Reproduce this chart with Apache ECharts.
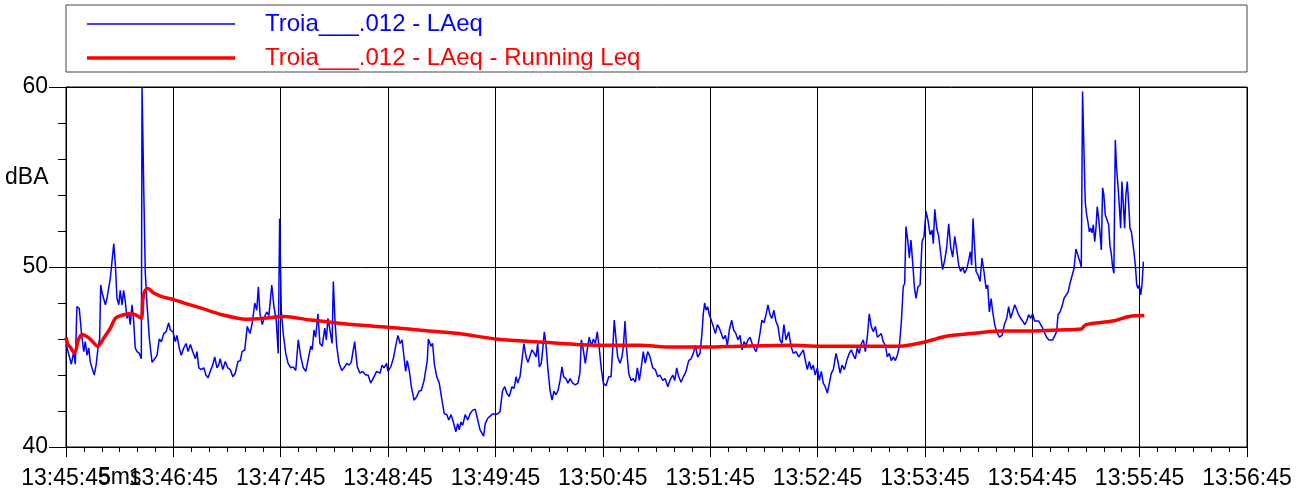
<!DOCTYPE html>
<html>
<head>
<meta charset="utf-8">
<title>Troia LAeq</title>
<script src="https://cdn.jsdelivr.net/npm/echarts@6/dist/echarts.min.js"></script>
<style>
  html, body { margin: 0; padding: 0; background: #fff; }
  #chart { width: 1307px; height: 491px; }
</style>
</head>
<body>
<div id="chart"></div>
<script>
// seconds after 13:45:45, dBA
const laeq = [
  [0,45.7],[0.6,45.5],[3.0,44.6],[4.3,45.3],[5.2,44.6],[6.1,47.8],[7.4,47.7],[8.6,46.4],[9.9,45.3],[10.8,45.85],
  [11.7,45.1],[12.7,45.5],[13.6,44.7],[14.5,44.6],[15.8,44.0],[16.9,44.6],[17.9,45.5],[18.8,46.0],[19.4,49.0],[20.1,48.6],
  [21.1,48.7],[22.0,47.9],[22.9,48.25],[23.9,48.2],[24.8,49.4],[25.7,49.5],[26.7,51.3],[27.6,50.1],[28.5,48.25],[29.5,47.9],
  [30.3,48.7],[31.3,47.9],[32.2,48.7],[33.1,48.1],[34.1,47.15],[35.0,47.5],[35.9,46.8],[36.9,47.9],[37.8,47.0],[38.7,45.5],
  [39.7,45.3],[41.0,45.2],[42.1,44.9],[42.5,60.0],[43.4,54.6],[44.3,49.7],[45.3,47.9],[46.6,46.0],[48.1,44.7],[49.6,44.9],
  [50.9,45.1],[52.1,46.0],[53.3,45.85],[54.6,46.3],[55.9,46.4],[57.4,46.9],[58.3,46.5],[59.8,46.4],[61.1,45.85],[62.0,46.2],
  [63.3,45.5],[64.4,45.1],[65.8,45.5],[67.1,45.75],[68.2,45.3],[69.5,45.7],[70.8,45.3],[72.3,44.9],[73.2,45.3],[74.2,44.4],
  [75.6,44.3],[77.0,44.4],[78.2,44.0],[79.4,43.85],[80.6,44.2],[82.0,44.55],[83.1,45.0],[84.4,44.4],[85.3,44.55],[86.2,44.9],
  [87.6,44.3],[89.0,44.75],[90.4,44.4],[91.8,44.3],[93.2,43.9],[94.6,44.1],[96.1,44.75],[97.4,44.8],[98.4,45.3],[99.9,45.4],
  [101.3,46.7],[102.8,46.3],[104.1,46.9],[105.5,48.0],[106.6,47.6],[107.5,48.9],[108.4,47.4],[109.7,46.8],[111.0,47.25],[112.2,47.5],
  [113.4,47.3],[115.0,49.0],[116.2,47.8],[117.5,47.05],[118.6,45.2],[119.4,52.7],[120.3,47.6],[121.4,46.3],[122.8,45.2],[124.1,44.65],
  [125.6,44.4],[127.0,44.45],[128.4,44.25],[129.8,45.95],[131.2,45.0],[132.6,44.4],[134.0,44.2],[135.2,44.8],[136.8,45.6],[137.6,45.4],
  [138.6,46.5],[139.5,46.1],[140.8,47.4],[141.9,45.75],[143.2,45.6],[144.6,46.6],[145.5,45.95],[146.4,47.15],[147.5,46.5],[148.7,45.75],
  [149.4,49.2],[150.3,47.05],[151.3,45.6],[152.6,44.65],[154.1,44.25],[155.4,44.4],[156.9,44.65],[158.2,44.55],[159.4,44.7],[161.3,45.85],
  [162.8,44.45],[164.3,44.1],[165.8,44.2],[167.5,44.0],[168.8,44.0],[170.3,43.55],[172.1,43.9],[173.6,44.2],[175.5,44.1],[176.6,44.55],
  [177.7,44.4],[179.2,44.65],[179.9,44.2],[181.5,44.45],[182.9,44.9],[184.3,45.65],[185.5,46.2],[186.7,45.75],[187.8,45.95],[188.9,45.0],
  [189.8,44.2],[190.7,44.8],[191.9,44.2],[193.0,43.35],[194.5,42.6],[196.0,42.8],[197.3,43.1],[198.6,43.15],[200.1,43.7],[201.2,43.8],
  [201.9,44.8],[202.5,46.0],[203.0,46.1],[204.0,45.6],[204.9,45.75],[205.8,44.65],[207.2,43.9],[208.6,43.55],[210.1,42.6],[211.4,41.85],
  [212.8,41.8],[213.9,41.5],[215.2,41.8],[216.4,41.4],[217.9,40.85],[218.9,41.3],[219.8,40.95],[220.7,41.4],[221.7,41.2],[223.1,41.8],
  [224.5,41.5],[225.8,41.85],[227.3,42.05],[228.7,42.1],[230.1,41.5],[231.4,40.95],[232.5,41.05],[233.4,40.6],[234.3,41.3],[235.7,41.6],
  [236.9,41.7],[238.5,41.85],[239.9,41.8],[241.3,41.85],[242.5,41.95],[244.0,43.15],[245.2,43.35],[246.3,43.0],[247.7,42.8],[249.2,43.35],
  [250.4,43.25],[251.5,43.9],[252.4,43.55],[253.7,43.9],[254.8,44.8],[255.9,45.75],[257.1,45.0],[258.2,44.7],[259.3,44.65],[260.4,45.4],
  [261.7,45.2],[262.7,45.0],[263.6,45.75],[264.5,44.45],[265.6,44.65],[266.4,45.4],[267.3,46.4],[268.2,45.75],[269.2,44.45],[270.5,43.15],
  [271.6,42.6],[272.7,43.1],[273.8,42.9],[275.0,43.15],[276.1,43.7],[277.2,44.45],[278.1,43.9],[279.4,43.8],[280.5,43.55],[281.7,43.8],
  [283.2,43.55],[284.6,43.45],[286.1,43.55],[287.2,44.1],[288.0,45.95],[289.1,45.4],[290.2,44.65],[291.3,45.4],[292.4,46.1],[293.6,45.6],
  [294.7,46.0],[295.8,45.75],[296.9,46.4],[298.0,45.5],[299.2,44.3],[300.3,43.55],[301.8,43.4],[303.3,43.9],[304.6,43.9],[305.5,45.4],
  [306.4,47.05],[307.4,45.95],[308.3,45.0],[309.6,44.65],[310.7,45.0],[311.5,45.6],[312.4,47.0],[313.3,45.4],[314.5,44.1],[315.7,43.7],
  [317.0,43.8],[318.2,43.6],[319.3,44.4],[320.4,43.7],[321.5,44.45],[322.6,45.3],[323.7,44.65],[325.1,45.3],[326.4,45.0],[327.9,44.4],
  [329.3,44.3],[330.7,43.9],[331.9,44.0],[333.5,43.7],[334.9,43.8],[336.3,43.35],[337.5,43.7],[339.1,44.0],[340.2,43.7],[341.3,44.4],
  [342.4,43.9],[343.7,43.6],[345.0,43.9],[346.5,44.2],[348.0,44.8],[349.3,44.9],[350.6,45.2],[351.7,45.65],[353.0,45.0],[354.3,45.2],
  [355.4,46.3],[356.1,47.35],[356.9,48.0],[357.7,47.6],[358.6,47.8],[359.5,47.35],[360.6,47.05],[361.7,46.7],[362.9,46.3],[364.0,46.8],
  [365.1,46.6],[366.2,46.3],[367.3,46.0],[368.5,46.2],[369.6,45.65],[370.7,46.5],[372.0,47.05],[373.1,46.5],[374.4,46.3],[375.5,45.95],
  [376.7,46.2],[377.8,45.4],[378.9,45.85],[380.0,45.65],[381.1,45.95],[382.3,46.1],[383.4,45.75],[384.5,45.5],[385.6,45.3],[386.7,45.65],
  [387.8,46.3],[388.9,47.05],[390.1,46.9],[391.2,47.35],[392.3,47.9],[393.4,47.35],[394.5,47.15],[395.6,47.6],[396.7,47.0],[397.9,46.7],
  [399.0,45.95],[400.1,45.75],[401.2,46.8],[402.4,45.95],[403.9,46.4],[405.2,45.6],[406.4,45.2],[408.0,45.3],[409.5,45.0],[410.8,45.2],
  [412.0,45.4],[413.2,44.8],[414.3,44.3],[415.4,44.75],[416.5,44.3],[417.6,44.55],[418.7,44.0],[419.9,44.4],[421.0,43.7],[422.1,44.2],
  [423.2,43.55],[424.3,43.35],[425.5,43.0],[426.6,43.55],[427.7,44.1],[428.8,44.3],[430.3,45.2],[431.4,44.75],[432.6,44.1],[433.7,44.55],
  [435.0,44.3],[436.3,44.8],[437.7,45.2],[438.9,45.4],[440.0,45.1],[441.1,44.9],[442.2,45.5],[443.3,45.2],[444.5,45.75],[445.6,45.95],
  [446.7,45.3],[447.8,46.1],[448.9,47.4],[450.0,46.7],[451.2,46.4],[452.3,46.7],[453.4,46.1],[454.5,46.0],[455.6,46.3],[456.7,45.85],
  [457.9,45.65],[459.0,45.0],[460.1,45.2],[461.2,44.8],[462.3,45.0],[463.5,44.8],[464.6,45.1],[465.7,45.6],[466.8,46.9],[467.9,48.9],
  [468.7,49.1],[469.4,52.25],[470.4,51.5],[471.3,50.5],[472.2,51.5],[473.2,50.2],[474.1,48.9],[475.0,48.25],[476.1,48.9],[477.3,49.0],
  [478.4,51.4],[479.5,51.7],[480.6,53.1],[481.7,52.6],[482.9,51.8],[484.0,52.05],[484.7,51.3],[485.5,53.2],[486.6,52.15],[487.7,51.7],
  [488.8,50.75],[489.9,49.85],[491.1,50.4],[492.2,51.1],[493.3,52.4],[494.4,51.1],[495.5,50.55],[496.7,51.7],[497.8,50.95],[498.9,50.1],
  [500.0,49.75],[501.1,50.0],[502.2,49.65],[503.4,49.9],[504.5,50.4],[505.4,50.85],[506.1,50.1],[506.9,52.7],[507.6,51.4],[508.6,49.75],
  [509.7,49.55],[510.8,49.2],[511.9,50.5],[513.0,49.75],[514.2,48.8],[515.1,49.0],[516.0,47.5],[517.0,48.25],[517.9,47.5],[519.0,46.8],
  [520.1,46.4],[521.6,46.1],[523.1,46.2],[524.4,46.8],[525.7,47.15],[526.8,47.8],[527.9,47.15],[529.0,47.5],[530.2,47.9],[531.3,47.9],
  [532.4,47.35],[533.5,47.15],[534.6,47.0],[535.8,46.8],[536.9,47.0],[538.0,47.35],[539.1,47.15],[540.2,47.4],[541.3,47.0],[542.4,46.9],
  [543.6,47.0],[544.7,46.8],[545.8,46.6],[546.9,46.5],[548.0,46.1],[549.2,45.95],[550.3,45.85],[551.4,45.95],[552.5,46.05],[553.6,46.4],
  [554.4,47.35],[555.5,47.5],[556.6,47.8],[557.7,48.25],[558.8,48.15],[560.0,48.6],[561.1,49.1],[562.2,49.0],[563.3,49.9],[564.4,51.0],
  [565.5,50.95],[566.6,50.3],[567.4,50.0],[568.1,59.75],[568.9,56.4],[569.6,53.6],[570.4,52.9],[571.1,52.5],[571.9,51.95],[572.6,52.15],
  [573.4,51.9],[574.1,52.35],[574.9,51.4],[575.6,52.15],[576.3,53.35],[577.1,52.7],[577.8,51.95],[578.6,50.95],[579.3,54.4],[580.0,54.0],
  [580.8,52.9],[581.6,53.0],[582.7,52.35],[583.4,51.2],[584.2,50.7],[584.9,50.0],[585.6,49.65],[586.4,57.05],[587.1,55.5],[587.9,54.55],
  [588.6,53.45],[589.4,52.15],[590.1,54.75],[590.9,53.45],[591.6,52.15],[592.3,54.0],[593.1,54.75],[593.9,53.45],[594.6,52.15],[595.4,51.95],
  [596.1,51.4],[596.8,50.85],[597.6,50.1],[598.4,49.0],[599.1,48.8],[599.8,49.0],[600.6,48.45],[601.3,49.0],[602.1,50.3]
];

const runningLeq = [
  [0,46.1],[1.1,45.7],[2.8,45.5],[3.9,45.3],[5.0,45.25],[6.7,45.9],[8.9,46.25],[12.9,46.05],[17.9,45.6],[21.1,46.05],
  [24.8,46.6],[27.6,47.15],[32.2,47.35],[36.9,47.4],[39.7,47.3],[42.1,47.15],[43.0,48.25],[44.3,48.7],[45.8,48.8],[49.0,48.55],
  [53.6,48.35],[59.8,48.2],[66.7,47.98],[76.0,47.7],[87.2,47.35],[100.6,47.1],[110.7,47.15],[121.4,47.25],[136.8,47.05],[155.4,46.85],
  [179.9,46.65],[202.9,46.45],[219.8,46.3],[240.3,46.0],[262.7,45.85],[285.0,45.7],[304.6,45.65],[320.2,45.65],[339.1,45.55],[357.7,45.55],
  [376.1,45.6],[405.2,45.65],[421.0,45.6],[439.6,45.6],[465.7,45.6],[480.6,45.85],[491.8,46.15],[505.8,46.3],[521.6,46.45],[540.2,46.45],
  [555.1,46.5],[567.2,46.55],[570.0,46.8],[584.9,47.0],[594.2,47.25],[602.6,47.3]
];

const xTickLabels = ['13:45:45', '13:46:45', '13:47:45', '13:48:45', '13:49:45', '13:50:45',
  '13:51:45', '13:52:45', '13:53:45', '13:54:45', '13:55:45', '13:56:45'];

const laeqName = 'Troia___.012 - LAeq';
const runName = 'Troia___.012 - LAeq - Running Leq';
const font = '"Liberation Sans", Arial, sans-serif';

const chart = echarts.init(document.getElementById('chart'));

chart.setOption({
  animation: false,
  backgroundColor: '#fff',
  textStyle: { fontFamily: font },
  grid: {
    left: 66, right: 60, top: 87, bottom: 44,
    show: true, borderColor: '#000', borderWidth: 1, backgroundColor: 'transparent',
  },
  legend: {
    orient: 'vertical',
    left: 82,
    top: 7,
    itemWidth: 148,
    itemHeight: 14,
    itemGap: 10,
    selectedMode: false,
    textStyle: { fontSize: 24, lineHeight: 24, padding: [0, 0, 0, 25], fontFamily: font },
    data: [
      { name: laeqName, icon: 'path://M0,0H100V1H0Z', textStyle: { color: '#0000ff' } },
      { name: runName, icon: 'path://M0,0H100V2.4H0Z', textStyle: { color: '#ff0000' } },
    ],
  },
  graphic: [
    {
      type: 'rect',
      shape: { x: 66, y: 5, width: 1181, height: 67 },
      style: { fill: 'none', stroke: '#444', lineWidth: 1 },
      z: -1,
    },
    {
      type: 'text',
      left: 5, top: 166,
      style: { text: 'dBA', fontSize: 23, fontFamily: font, fill: '#000' },
    },
    {
      type: 'text',
      left: 98, top: 466,
      style: { text: '5ms', fontSize: 23, fontFamily: font, fill: '#000' },
    },
  ],
  xAxis: {
    type: 'value',
    min: 0,
    max: 660,
    interval: 60,
    axisLine: { lineStyle: { color: '#000', width: 1 } },
    axisTick: { length: 10, lineStyle: { color: '#000' } },
    minorTick: { show: true, splitNumber: 6, length: 5, lineStyle: { color: '#000' } },
    splitLine: { show: true, lineStyle: { color: '#000', width: 1 } },
    axisLabel: {
      fontSize: 23, color: '#000', margin: 20, fontFamily: font,
      formatter: (v) => xTickLabels[Math.round(v / 60)],
    },
  },
  yAxis: {
    type: 'value',
    min: 40,
    max: 60,
    interval: 10,
    axisLine: { show: true, lineStyle: { color: '#000', width: 1 } },
    axisTick: { show: true, length: 17, lineStyle: { color: '#000' } },
    minorTick: { show: true, splitNumber: 5, length: 8, lineStyle: { color: '#000' } },
    splitLine: { show: true, lineStyle: { color: '#000', width: 1 } },
    axisLabel: { fontSize: 23, color: '#000', margin: 18, fontFamily: font },
  },
  series: [
    {
      name: laeqName,
      type: 'line',
      data: laeq,
      symbol: 'none',
      showSymbol: false,
      lineStyle: { color: '#0000ff', width: 1.5 },
      itemStyle: { color: '#0000ff' },
      z: 2,
    },
    {
      name: runName,
      type: 'line',
      data: runningLeq,
      symbol: 'none',
      showSymbol: false,
      smooth: 0.3,
      lineStyle: { color: '#ff0000', width: 3.5 },
      itemStyle: { color: '#ff0000' },
      z: 3,
    },
  ],
});

window.addEventListener('resize', () => chart.resize());
</script>
</body>
</html>
